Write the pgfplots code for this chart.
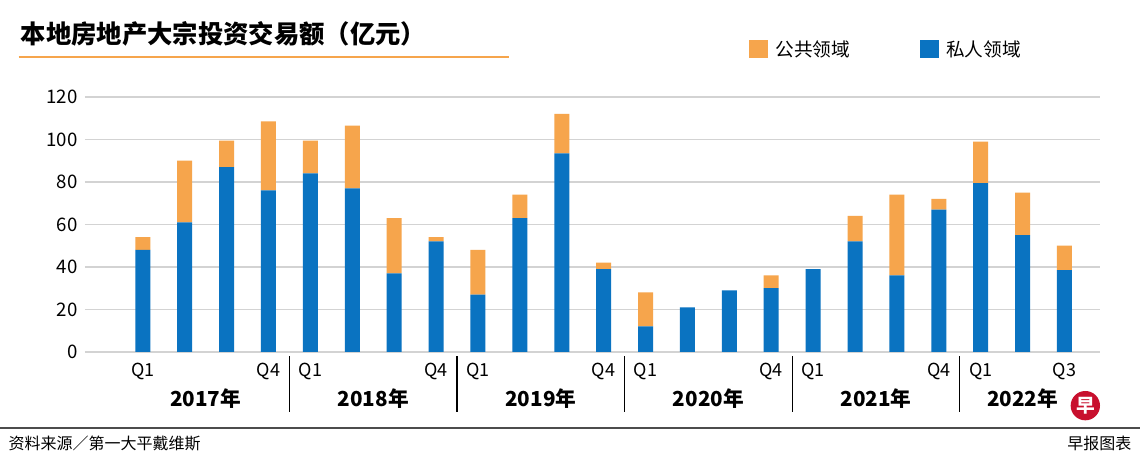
\documentclass[border=0pt]{standalone}
\usepackage{pgfplots}
\pgfplotsset{compat=1.18}
\usepackage{fontspec}
\setmainfont{Noto Sans CJK SC}
\definecolor{pblue}{HTML}{0A73C1}
\definecolor{porange}{HTML}{F6A54C}
\definecolor{gridc}{HTML}{D3D3D3}
\definecolor{logored}{HTML}{C8102E}
\begin{document}
\begin{tikzpicture}[
  qlab/.style={font=\fontsize{13.5}{14}\selectfont},
  ylab/.style={font=\bfseries\fontsize{15.5}{16}\selectfont},
  sepl/.style={black,line width=0.8pt}]
\fill[white] (0pt,0pt) rectangle (855pt,342.75pt);
\useasboundingbox (0pt,0pt) rectangle (855pt,342.75pt);
% title
\node[anchor=west,font=\bfseries\fontsize{19}{20}\selectfont] at (12pt,317pt) {本地房地产大宗投资交易额（亿元）};
\draw[porange,line width=1.5pt] (14pt,300pt) -- (382pt,300pt);
% legend
\fill[porange] (562pt,299pt) rectangle (576pt,313pt);
\node[anchor=west,font=\fontsize{14}{15}\selectfont] at (578pt,306pt) {公共领域};
\fill[pblue] (690pt,299pt) rectangle (704pt,313pt);
\node[anchor=west,font=\fontsize{14}{15}\selectfont] at (706pt,306pt) {私人领域};
% footer
\draw[black!70,line width=0.8pt] (0pt,21.75pt) -- (855pt,21.75pt);
\node[anchor=west,font=\fontsize{12}{13}\selectfont] at (3pt,10.5pt) {资料来源／第一大平戴维斯};
\node[anchor=east,font=\fontsize{12}{13}\selectfont] at (852pt,10.5pt) {早报图表};
\fill[logored] (814pt,38.5pt) circle (11pt);
\node[white,font=\bfseries\fontsize{14}{14}\selectfont] at (814pt,38.5pt) {早};
\begin{axis}[
  at={(63.75pt,78.75pt)}, anchor=south west,
  scale only axis, width=761pt, height=191.25pt,
  ymin=0, ymax=120, ytick={0,20,...,120},
  xmin=-1.38, xmax=22.84,
  ybar stacked, bar width=11.25pt,
  axis line style={draw=none},
  ymajorgrids, grid style={gridc,line width=1.3pt},
  major tick length=0pt,
  xtick=\empty,
  yticklabel style={font=\fontsize{14}{15}\selectfont, xshift=-2pt},
  /pgf/number format/assume math mode=true,
  clip=false,
]
\addplot[fill=pblue,draw=none] coordinates {
(0,48)(1,61)(2,87)(3,76)(4,84)(5,77)(6,37)(7,52)(8,27)(9,63)(10,93.5)(11,39)
(12,12)(13,21)(14,29)(15,30)(16,39)(17,52)(18,36)(19,67)(20,79.5)(21,55)(22,38.5)};
\addplot[fill=porange,draw=none] coordinates {
(0,6)(1,29)(2,12.5)(3,32.5)(4,15.5)(5,29.5)(6,26)(7,2)(8,21)(9,11)(10,18.5)(11,3)
(12,16)(13,0)(14,0)(15,6)(16,0)(17,12)(18,38)(19,5)(20,19.5)(21,20)(22,11.5)};
\node[qlab] at (axis cs:0,-9) {Q1};
\node[qlab] at (axis cs:3,-9) {Q4};
\node[qlab] at (axis cs:4,-9) {Q1};
\node[qlab] at (axis cs:7,-9) {Q4};
\node[qlab] at (axis cs:8,-9) {Q1};
\node[qlab] at (axis cs:11,-9) {Q4};
\node[qlab] at (axis cs:12,-9) {Q1};
\node[qlab] at (axis cs:15,-9) {Q4};
\node[qlab] at (axis cs:16,-9) {Q1};
\node[qlab] at (axis cs:19,-9) {Q4};
\node[qlab] at (axis cs:20,-9) {Q1};
\node[qlab] at (axis cs:22,-9) {Q3};
\node[ylab] at (axis cs:1.5,-22) {2017年};
\node[ylab] at (axis cs:5.5,-22) {2018年};
\node[ylab] at (axis cs:9.5,-22) {2019年};
\node[ylab] at (axis cs:13.5,-22) {2020年};
\node[ylab] at (axis cs:17.5,-22) {2021年};
\node[ylab] at (axis cs:21,-22) {2022年};
\draw[sepl] (axis cs:3.5,-2) -- (axis cs:3.5,-28);
\draw[sepl] (axis cs:7.5,-2) -- (axis cs:7.5,-28);
\draw[sepl] (axis cs:11.5,-2) -- (axis cs:11.5,-28);
\draw[sepl] (axis cs:15.5,-2) -- (axis cs:15.5,-28);
\draw[sepl] (axis cs:19.5,-2) -- (axis cs:19.5,-28);
\end{axis}
\end{tikzpicture}
\end{document}
